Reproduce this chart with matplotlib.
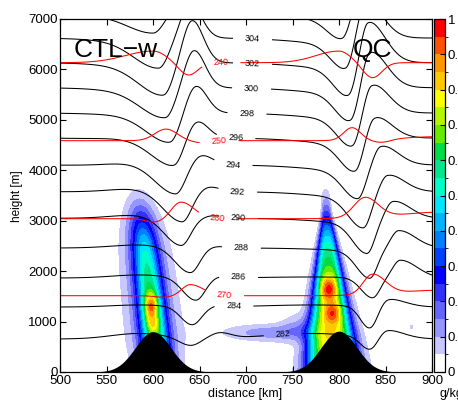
import numpy as np
import matplotlib
matplotlib.use("Agg")
import matplotlib.pyplot as plt
from matplotlib.colors import ListedColormap, BoundaryNorm

plt.rcParams['font.family'] = ['Liberation Sans', 'DejaVu Sans']

# ---------------- values ----------------
x_limits = [500, 900]
z_limits = [0, 7000]
x_ticks = [500, 550, 600, 650, 700, 750, 800, 850, 900]
z_ticks = [0, 1000, 2000, 3000, 4000, 5000, 6000, 7000]
cbar_ticks = [0, 0.1, 0.2, 0.3, 0.4, 0.5, 0.6, 0.7, 0.8, 0.9, 1.0]
cbar_ticklabels = ['0', '0.1', '0.2', '0.3', '0.4', '0.5', '0.6', '0.7', '0.8', '0.9', '1']
qc_bounds = [0, .05, .1, .15, .2, .25, .3, .35, .4, .45, .5, .55, .6, .65, .7, .75, .8, .85, .9, .95, 1.0]
qc_colors = ['#ffffff', '#c8c8ff', '#9696ff', '#6464ff', '#3232ff', '#0000ff', '#0040ff',
             '#0080ff', '#00b4ff', '#00e6ff', '#00ffc8', '#00e68c', '#00dc46', '#64eb00',
             '#b4f500', '#ffff00', '#ffc800', '#ff9600', '#ff5000', '#ff0000']

mountain_x = [600, 800]
mountain_h = [800, 810]
mountain_w = [19, 19]

# potential temperature contours (black)
theta_levels   = [276, 280, 282, 284, 286, 288, 290, 292, 294, 296, 298, 300, 302, 304, 306, 308, 314]
theta_upstream = [-1500, 0, 654, 1289, 1864, 2459, 3050, 3576, 4105, 4640, 5136, 5638, 6134, 6623, 7100, 7580, 9000]
theta_drawn    = [282, 284, 286, 288, 290, 292, 294, 296, 298, 300, 302, 304, 306, 308]
# left mountain wave
L_pre     = [0, 0, 110, 40, 60, 60, 90, 100, 100, 50, 20, 0, 0, 0, 0, 0, 0]
L_dip_x   = [600, 600, 640, 642, 646, 640, 630, 631, 624, 622, 618, 613, 611, 606, 600, 594, 600]
L_dip     = [0, 0, 150, 360, 450, 500, 520, 550, 520, 480, 500, 500, 550, 500, 300, 250, 0]
L_dip_wl  = [20, 20, 12, 12, 14, 16, 18, 20, 22, 24, 25, 26, 26, 26, 26, 26, 26]
L_crest_x = [650, 650, 672, 674, 672, 668, 664, 660, 652, 647, 646, 644, 642, 640, 636, 632, 650]
L_crest   = [0, 0, 110, 30, 30, 30, 50, 100, 200, 350, 550, 750, 850, 700, 600, 500, 0]
L_broad   = [0, 0, 0, 0, 0, 0, 50, 80, 100, 100, 100, 100, 100, 100, 80, 60, 0]
# right mountain wave
R_pre     = [0, 0, 110, 40, 20, 0, 0, 0, 0, 0, 0, 0, 0, 0, 0, 0, 0]
R_dip_x   = [800, 800, 833, 833, 836, 833, 830, 826, 820, 817, 814, 812, 810, 807, 803, 798, 800]
R_dip     = [0, 0, 260, 440, 400, 550, 600, 600, 550, 550, 550, 550, 550, 500, 400, 300, 0]
R_dip_wl  = [15, 15, 10, 10, 12, 14, 15, 16, 16, 16, 16, 16, 16, 16, 16, 16, 16]
R_crest_x = [850, 850, 852, 853, 866, 864, 858, 852, 845, 838, 835, 833, 831, 828, 825, 821, 850]
R_crest   = [0, 0, 150, 150, 350, 350, 350, 350, 400, 450, 600, 750, 850, 750, 650, 500, 0]
R_broad   = [0, 0, 0, 0, 0, 50, 100, 120, 120, 120, 120, 120, 120, 120, 100, 80, 0]
theta_label_levels = [282, 284, 286, 288, 290, 292, 294, 296, 298, 300, 302, 304]
theta_label_x      = [740, 687, 692, 695, 692, 691, 686, 689, 701, 706, 707, 707]

# temperature contours (red)
T_levels   = [220, 230, 240, 250, 260, 270, 280, 290]
T_upstream = [9200, 7670, 6134, 4587, 3040, 1513, -20, -1550]
T_drawn    = [240, 250, 260, 270]
TL_crest_x  = [600, 600, 600, 614, 630, 640, 600, 600]
TL_crest    = [0, 0, 230, 230, 330, 220, 0, 0]
TL_crest_wl = [20, 20, 30, 12, 10, 9, 20, 20]
TL_crest_wr = [14, 14, 14, 12, 14, 14, 14, 14]
TL_trough_x = [620, 620, 638, 652, 602, 612, 620, 620]
TL_trough   = [0, 0, 250, 40, 70, 30, 0, 0]
TR_crest_x  = [800, 800, 800, 814, 828, 836, 800, 800]
TR_crest    = [0, 0, 230, 250, 400, 400, 0, 0]
TR_crest_wl = [20, 20, 25, 9, 12, 10, 20, 20]
TR_crest_wr = [12, 12, 12, 9, 14, 14, 12, 12]
TR_trough_x = [840, 840, 836, 846, 846, 846, 840, 840]
TR_trough   = [0, 0, 300, 60, 0, 0, 0, 0]
TR_tail     = [0, 0, 0, 80, 130, 110, 0, 0]
T_label_levels = [240, 250, 260, 270]
T_label_x      = [673, 671, 669, 677]

# cloud water (filled)
cloud_xc    = [597, 790]
cloud_tilt  = [-6.0, -2.0]
cloud_zc    = [1500, 1400]
cloud_zs    = [1750, 1800]
cloud_amp   = [0.62, 0.73]
cloud_slope = [0.15, 0.15]
cloud_sx1   = [10.0, 17.0]
cloud_sx2   = [10.0, 11.0]
cloud_pow   = [2.0, 3.0]
halo_frac   = [0.18, 0.07]
halo_scale  = [2.3, 1.8]
blob_x   = [598, 600, 789, 793, 722, 755, 878]
blob_z   = [1300, 950, 1650, 1170, 780, 900, 890]
blob_sx  = [5, 5, 6, 6, 35, 12, 1.5]
blob_sz  = [180, 110, 170, 140, 120, 180, 40]
blob_amp = [0.28, 0.12, 0.27, 0.2, 0.12, 0.06, 0.07]

# ---------------- fields ----------------
x = np.linspace(x_limits[0], x_limits[1], 801)
z = np.linspace(z_limits[0], z_limits[1], 701)
X, Z = np.meshgrid(x, z)


def bump(xx, c, a, wl, wr):
    w = np.where(xx < c, wl, wr)
    return a * np.exp(-0.5 * ((xx - c) / w) ** 2)


nth = len(theta_levels)
H = np.zeros((nth, x.size))
for i in range(nth):
    h = theta_upstream[i] * np.ones_like(x)
    h += bump(x, 585, L_pre[i], 30, 30)
    h -= bump(x, L_dip_x[i], L_dip[i], L_dip_wl[i], 10)
    h -= bump(x, L_dip_x[i], L_broad[i], 50, 15)
    h += bump(x, L_crest_x[i], L_crest[i], 10, 12)
    h += bump(x, 770, R_pre[i], 50, 50)
    h -= bump(x, R_dip_x[i], R_dip[i], R_dip_wl[i], 8)
    h -= bump(x, R_dip_x[i], R_broad[i], 50, 15)
    h += bump(x, R_crest_x[i], R_crest[i], 8, 18)
    H[i] = h
for i in range(1, nth):
    H[i] = np.maximum(H[i], H[i - 1] + 5)
theta = np.empty_like(X)
for j in range(x.size):
    theta[:, j] = np.interp(z, H[:, j], theta_levels)

nT = len(T_levels)
HT = np.zeros((nT, x.size))
for i in range(nT):
    h = T_upstream[i] * np.ones_like(x)
    h += bump(x, TL_crest_x[i], TL_crest[i], TL_crest_wl[i], TL_crest_wr[i])
    h -= bump(x, TL_trough_x[i], TL_trough[i], 10, 10)
    h += bump(x, TR_crest_x[i], TR_crest[i], TR_crest_wl[i], TR_crest_wr[i])
    h -= bump(x, TR_trough_x[i], TR_trough[i], 10, 10)
    h += bump(x, 910, TR_tail[i], 45, 45)
    HT[i] = h
Tf = np.empty_like(X)
HTr = HT[::-1]
Tr = np.array(T_levels[::-1], float)
for j in range(x.size):
    Tf[:, j] = np.interp(z, HTr[:, j], Tr)

qc = np.zeros_like(X)
for k in range(2):
    xcz = cloud_xc[k] + cloud_tilt[k] * (Z - cloud_zc[k]) / 1000.0
    sx = np.clip(cloud_sx1[k] + (cloud_sx2[k] - cloud_sx1[k]) * (Z - 1000) / 1000.0, 4, None)
    vert = cloud_amp[k] * np.exp(-((Z - cloud_zc[k]) / cloud_zs[k]) ** 4) \
        * (1 - cloud_slope[k] * (Z - cloud_zc[k]) / 1000.0)
    core = np.exp(-0.5 * np.abs((X - xcz) / sx) ** cloud_pow[k])
    halo = np.exp(-0.5 * ((X - xcz) / (halo_scale[k] * sx)) ** 2)
    qc += vert * ((1 - halo_frac[k]) * core + halo_frac[k] * halo)
for b in range(len(blob_x)):
    qc += blob_amp[b] * np.exp(-0.5 * ((X - blob_x[b]) / blob_sx[b]) ** 2
                               - 0.5 * ((Z - blob_z[b]) / blob_sz[b]) ** 2)
qc = np.clip(qc, 0, 0.999)

hm = np.zeros_like(x)
for m in range(2):
    hm += mountain_h[m] * np.exp(-0.5 * ((x - mountain_x[m]) / mountain_w[m]) ** 2)

# ---------------- drawing ----------------
fig = plt.figure(figsize=(4.58, 4.01), dpi=100)
ax = fig.add_axes([60 / 458, 29 / 401, 372 / 458, 353 / 401])
cmap = ListedColormap(qc_colors)
norm = BoundaryNorm(qc_bounds, cmap.N)
cf = ax.contourf(X, Z, qc, levels=qc_bounds, cmap=cmap, norm=norm, zorder=1)

cs = ax.contour(X, Z, theta, levels=theta_drawn, colors='k', linewidths=0.75, zorder=2)
pos = [(xl, float(np.interp(xl, x, H[theta_levels.index(lv)])))
       for lv, xl in zip(theta_label_levels, theta_label_x)]
ax.clabel(cs, levels=theta_label_levels, manual=pos, inline=True, inline_spacing=12,
          fontsize=6.5, fmt='%d')

ct = ax.contour(X, Z, Tf, levels=T_drawn, colors='red', linewidths=0.75, zorder=2)
posT = [(xl, float(np.interp(xl, x, HT[T_levels.index(lv)])))
        for lv, xl in zip(T_label_levels, T_label_x)]
ax.clabel(ct, levels=T_label_levels, manual=posT, inline=True, inline_spacing=12,
          fontsize=6.5, fmt='%d')

ax.fill_between(x, 0, hm, color='black', zorder=3, linewidth=0)

ax.set_xlim(x_limits)
ax.set_ylim(z_limits)
ax.set_xticks(x_ticks)
ax.set_yticks(z_ticks)
ax.tick_params(direction='in', top=True, right=True, length=4, width=0.8, labelsize=9.5)
ax.tick_params(axis='y', pad=1.5)
ax.tick_params(axis='x', pad=2.5)
for s in ax.spines.values():
    s.set_linewidth(0.9)

ax.text(515, 6250, 'CTL\u2212w', fontsize=19, ha='left', va='baseline', zorder=5)
ax.text(815, 6250, 'QC', fontsize=19, ha='left', va='baseline', zorder=5)

fig.text(245 / 458, 1 - 394 / 401, 'distance [km]', ha='center', va='center', fontsize=9)
fig.text(17 / 458, 1 - 196 / 401, 'height [m]', ha='center', va='center', rotation=90, fontsize=8.5)
fig.text(440 / 458, 1 - 394 / 401, 'g/kg', ha='left', va='center', fontsize=9)

cax = fig.add_axes([434 / 458, 29 / 401, 11 / 458, 353 / 401])
cb = fig.colorbar(cf, cax=cax, ticks=cbar_ticks)
cb.set_ticklabels(cbar_ticklabels)
cax.tick_params(direction='in', length=3.5, width=0.8, labelsize=9.5, pad=2)
cb.outline.set_linewidth(0.9)

fig.savefig('out.png', dpi=100)
